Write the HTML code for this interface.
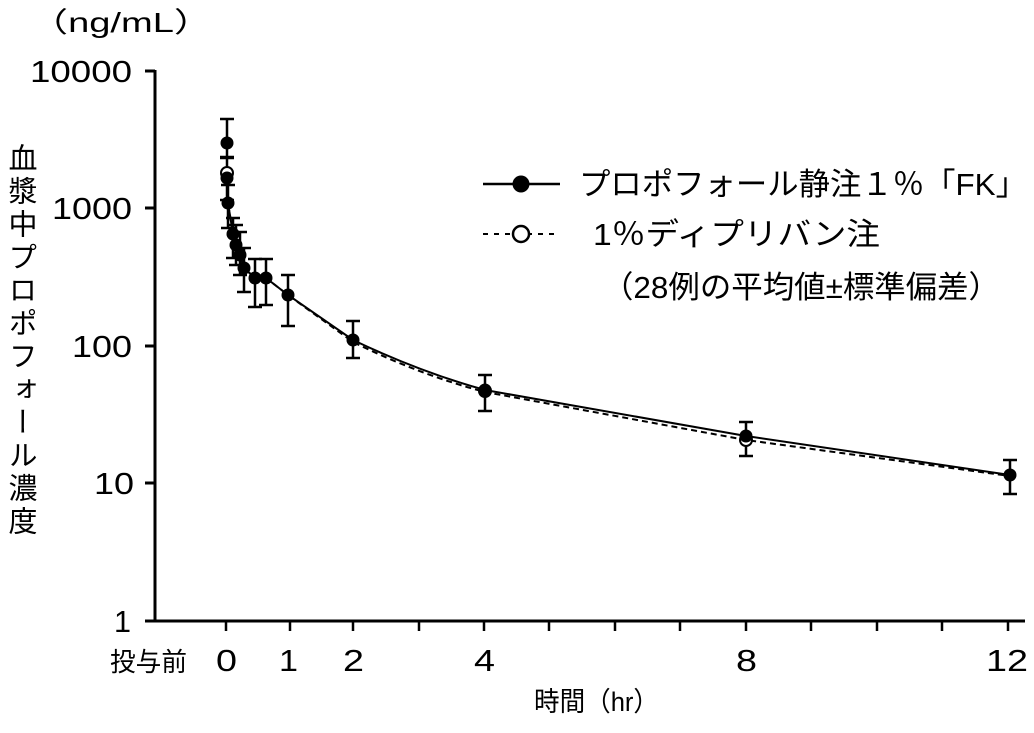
<!DOCTYPE html>
<html><head><meta charset="utf-8"><style>
body{margin:0;background:#fff}
svg text{font-family:"Liberation Sans","Noto Sans CJK JP",sans-serif;fill:#000}
</style></head><body>
<svg width="1034" height="728" viewBox="0 0 1034 728" xmlns="http://www.w3.org/2000/svg">
<g stroke="#000" stroke-width="3" fill="none">
<line x1="155" y1="70" x2="155" y2="621"/>
<line x1="145" y1="621" x2="1025" y2="621"/>
<line x1="145" y1="71" x2="155" y2="71"/>
<line x1="145" y1="208" x2="155" y2="208"/>
<line x1="145" y1="346" x2="155" y2="346"/>
<line x1="145" y1="483" x2="155" y2="483"/>
</g>
<g stroke="#000" stroke-width="2.5">
<line x1="226" y1="621" x2="226" y2="631"/><line x1="290" y1="621" x2="290" y2="631"/>
<line x1="353" y1="621" x2="353" y2="631"/><line x1="419" y1="621" x2="419" y2="631"/>
<line x1="484" y1="621" x2="484" y2="631"/><line x1="549" y1="621" x2="549" y2="631"/>
<line x1="615" y1="621" x2="615" y2="631"/><line x1="680" y1="621" x2="680" y2="631"/>
<line x1="746" y1="621" x2="746" y2="631"/><line x1="811" y1="621" x2="811" y2="631"/>
<line x1="877" y1="621" x2="877" y2="631"/><line x1="942" y1="621" x2="942" y2="631"/>
<line x1="1008" y1="621" x2="1008" y2="631"/>
</g>
<g font-size="31">
<text x="30" y="82" textLength="102" lengthAdjust="spacingAndGlyphs">10000</text>
<text x="52" y="219" textLength="80" lengthAdjust="spacingAndGlyphs">1000</text>
<text x="72" y="357" textLength="60" lengthAdjust="spacingAndGlyphs">100</text>
<text x="94" y="494" textLength="40" lengthAdjust="spacingAndGlyphs">10</text>
<text x="114" y="632" textLength="17" lengthAdjust="spacingAndGlyphs">1</text>
</g>
<text x="30" y="32" font-size="28" textLength="182" lengthAdjust="spacingAndGlyphs">（ng/mL）</text>
<g font-size="31">
<text x="216" y="671" textLength="21" lengthAdjust="spacingAndGlyphs">0</text>
<text x="279" y="671" textLength="19" lengthAdjust="spacingAndGlyphs">1</text>
<text x="343" y="671" textLength="21" lengthAdjust="spacingAndGlyphs">2</text>
<text x="474" y="671" textLength="21" lengthAdjust="spacingAndGlyphs">4</text>
<text x="736" y="671" textLength="21" lengthAdjust="spacingAndGlyphs">8</text>
<text x="986" y="671" textLength="42" lengthAdjust="spacingAndGlyphs">12</text>
</g>
<text x="110" y="671" font-size="26" textLength="77" lengthAdjust="spacingAndGlyphs">投与前</text>
<text x="534" y="711" font-size="27" textLength="125" lengthAdjust="spacingAndGlyphs">時間（hr）</text>
<text x="20" y="143" font-size="29" style="writing-mode:vertical-rl;letter-spacing:4px">血漿中プロポフォール濃度</text>
<g stroke="#000" stroke-width="2.5">
<path d="M227 119V157M220 119h14M220 157h14"/>
<path d="M227 158V200M220 158h14M220 200h14"/>
<path d="M228 185V228M221 185h14M221 228h14"/>
<path d="M233 218V258M226 218h14M226 258h14"/>
<path d="M236 225V265M229 225h14M229 265h14"/>
<path d="M240 232V275M233 232h14M233 275h14"/>
<path d="M244 248V292M237 248h14M237 292h14"/>
<path d="M255 259V307M248 259h14M248 307h14"/>
<path d="M266 259V305M259 259h14M259 305h14"/>
<path d="M288 275V326M281 275h14M281 326h14"/>
<path d="M353 321V358M346 321h14M346 358h14"/>
<path d="M485 375V411M478 375h14M478 411h14"/>
<path d="M746 422V456M739 422h14M739 456h14"/>
<path d="M1010 460V494M1003 460h14M1003 494h14"/>
</g>
<path d="M227 175L228 203L233 234L236 245L240 255L244 268L255 278L266 278L288 295L353 342Q420 375 485 392L746 440L1010 476" stroke="#000" stroke-width="2" stroke-dasharray="6,4" fill="none"/>
<path d="M227 143L227 178L228 203L233 234L236 245L240 255L244 268L255 278L266 278L288 295L353 340Q420 372 485 390L746 436L1010 475" stroke="#000" stroke-width="2" fill="none"/>
<g fill="#fff" stroke="#000" stroke-width="2">
<circle cx="227" cy="173" r="6"/><circle cx="746" cy="440" r="6"/><circle cx="485" cy="391" r="6"/>
</g>
<g fill="#000">
<circle cx="227" cy="143" r="6.5"/><circle cx="227" cy="178" r="6.5"/><circle cx="228" cy="203" r="6.5"/>
<circle cx="233" cy="234" r="6.5"/><circle cx="236" cy="245" r="6.5"/><circle cx="240" cy="255" r="6.5"/>
<circle cx="244" cy="268" r="6.5"/><circle cx="255" cy="278" r="6.5"/><circle cx="266" cy="278" r="6.5"/>
<circle cx="288" cy="295" r="6.5"/><circle cx="353" cy="340" r="6.5"/><circle cx="485" cy="390" r="6.5"/>
<circle cx="746" cy="436" r="6.5"/><circle cx="1010" cy="475" r="6.5"/>
</g>
<line x1="483" y1="184" x2="560" y2="184" stroke="#000" stroke-width="2.5"/>
<circle cx="521" cy="184" r="8.5" fill="#000"/>
<text x="579" y="195" font-size="31" textLength="448" lengthAdjust="spacingAndGlyphs">プロポフォール静注１％「FK」</text>
<line x1="483" y1="234" x2="560" y2="234" stroke="#000" stroke-width="2" stroke-dasharray="5,6"/>
<circle cx="521" cy="234" r="8" fill="#fff" stroke="#000" stroke-width="2.5"/>
<text x="593" y="245" font-size="31" textLength="287" lengthAdjust="spacingAndGlyphs">1％ディプリバン注</text>
<text x="602" y="298" font-size="31" textLength="398" lengthAdjust="spacingAndGlyphs">（28例の平均値±標準偏差）</text>
</svg>
</body></html>
